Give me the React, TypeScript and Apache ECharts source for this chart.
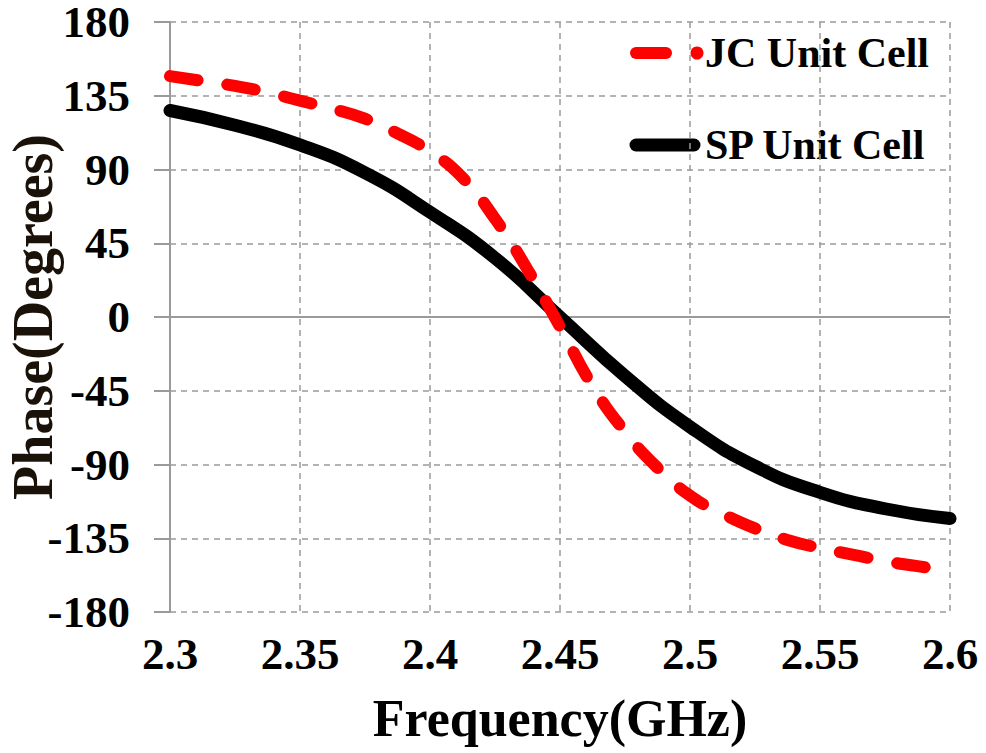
import React, { useEffect, useRef } from "react";
import * as echarts from "echarts";

const freqJC = [2.3, 2.3125, 2.325, 2.3375, 2.35, 2.3625, 2.375, 2.3875, 2.4, 2.4125, 2.425, 2.4375, 2.45, 2.4625, 2.475, 2.4875, 2.5, 2.5125, 2.525, 2.5375, 2.55, 2.5625, 2.575, 2.5875, 2.6];
const phaseJC = [147, 144, 141, 137, 132, 127, 121, 112, 101, 85, 60, 29, -6, -42, -70, -92, -109, -120, -129, -136, -141, -145, -149, -152, -155];

const freqSP = [2.3, 2.325, 2.35, 2.375, 2.4, 2.425, 2.45, 2.475, 2.5, 2.525, 2.55, 2.575, 2.6];
const phaseSP = [126, 117, 105, 88, 64, 36, 0, -36, -67, -91, -107, -117, -123];

const xTicks = [2.3, 2.35, 2.4, 2.45, 2.5, 2.55, 2.6];
const yTicks = [-180, -135, -90, -45, 0, 45, 90, 135, 180];

const seriesNames = ["JC Unit Cell", "SP Unit Cell"];

const FONT = "'Liberation Serif', 'Times New Roman', serif";

export default function App() {
  const ref = useRef<HTMLDivElement>(null);
  useEffect(() => {
    if (!ref.current) return;
    const chart = echarts.init(ref.current, null, { renderer: "svg" });
    const gray = "#9a9a9a";
    chart.setOption({
      animation: false,
      backgroundColor: "#ffffff",
      grid: { left: 170, right: 36, top: 22, bottom: 141, containLabel: false, outerBoundsMode: "none" },
      xAxis: {
        type: "value",
        min: xTicks[0],
        max: xTicks[xTicks.length - 1],
        interval: 0.05,
        name: "Frequency(GHz)",
        nameLocation: "middle",
        nameGap: 80,
        nameMoveOverlap: false,
        nameTextStyle: { fontFamily: FONT, fontWeight: "bold", fontSize: 52, lineHeight: 52, color: "#000" },
        axisLine: { show: false },
        axisTick: { show: false },
        axisLabel: {
          margin: 22,
          fontFamily: FONT,
          fontWeight: "bold",
          fontSize: 45,
          lineHeight: 40,
          color: "#000",
          formatter: (v: number) => String(+v.toFixed(2)),
        },
        splitLine: { show: true, lineStyle: { color: gray, width: 1.5, type: [6, 5] } },
      },
      yAxis: {
        type: "value",
        min: yTicks[0],
        max: yTicks[yTicks.length - 1],
        interval: 45,
        name: "Phase(Degrees)",
        nameLocation: "middle",
        nameGap: 109,
        nameRotate: 90,
        nameMoveOverlap: false,
        nameTextStyle: { fontFamily: FONT, fontWeight: "bold", fontSize: 56, lineHeight: 56, color: "#1a1208" },
        axisLine: { show: true, lineStyle: { color: gray, width: 2 } },
        axisTick: { show: true, inside: false, length: 16, lineStyle: { color: gray, width: 2 } },
        axisLabel: {
          margin: 40,
          fontFamily: FONT,
          fontWeight: "bold",
          fontSize: 45,
          lineHeight: 36,
          color: "#000",
        },
        splitLine: { show: true, lineStyle: { color: gray, width: 1.5, type: [6, 5] } },
      },
      series: [
        {
          name: seriesNames[1],
          type: "line",
          data: freqSP.map((f, i) => [f, phaseSP[i]]),
          smooth: 0.5,
          showSymbol: false,
          lineStyle: { color: "#000000", width: 13, cap: "round" },
          z: 3,
          markLine: {
            silent: true,
            symbol: "none",
            label: { show: false },
            lineStyle: { color: gray, width: 2, type: "solid" },
            data: [{ yAxis: 0 }],
            z: 1,
          },
        },
        {
          name: seriesNames[0],
          type: "line",
          data: freqJC.map((f, i) => [f, phaseJC[i]]),
          smooth: 0.5,
          showSymbol: false,
          lineStyle: { color: "#ff0000", width: 12, type: [28, 30], cap: "round" },
          z: 4,
        },
      ],
      graphic: [
        { type: "line", shape: { x1: 636, y1: 53, x2: 666, y2: 53 }, style: { stroke: "#ff0000", lineWidth: 12, lineCap: "round" } },
        { type: "circle", shape: { cx: 697, cy: 53, r: 6.5 }, style: { fill: "#ff0000" } },
        { type: "text", x: 705, y: 53, style: { text: seriesNames[0], fontFamily: FONT, fontWeight: "bold", fontSize: 42, fill: "#000", verticalAlign: "middle", align: "left" } },
        { type: "line", shape: { x1: 636, y1: 145, x2: 694, y2: 145 }, style: { stroke: "#000000", lineWidth: 13, lineCap: "round" } },
        { type: "text", x: 705, y: 145, style: { text: seriesNames[1], fontFamily: FONT, fontWeight: "bold", fontSize: 42, fill: "#000", verticalAlign: "middle", align: "left" } },
      ],
    });
    return () => chart.dispose();
  }, []);
  return <div ref={ref} style={{ position: "fixed", left: 0, top: 0, width: 986, height: 753 }} />;
}
